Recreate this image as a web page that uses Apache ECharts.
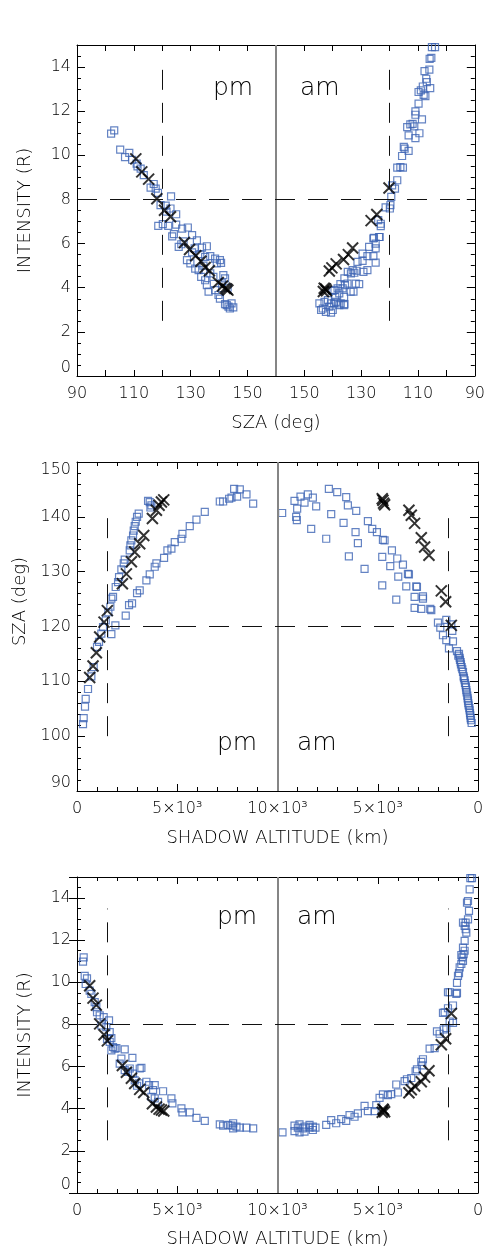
<!DOCTYPE html>
<html><head><meta charset="utf-8">
<script src="https://cdn.jsdelivr.net/npm/echarts@6.0.0/dist/echarts.min.js"></script>
<style>html,body{margin:0;padding:0;background:#fff}#c{width:488px;height:1249px}</style>
</head><body><div id="c"></div><script>
// ---------------- DATA ----------------
// Panel 1: [SZA (deg), intensity (R)]
const p1PmSquares = [[102.0,10.98],[103.1,11.13],[105.2,10.26],[106.9,9.92],[108.4,10.11],[109.4,9.80],[111.0,9.62],[111.3,9.50],[112.4,9.40],[113.5,9.10],[115.9,8.54],[117.0,8.70],[117.7,8.49],[118.5,8.30],[123.1,8.14],[119.4,7.74],[121.2,7.72],[121.5,7.45],[122.9,7.59],[124.9,7.33],[118.6,6.80],[120.2,6.88],[122.1,6.80],[124.9,6.86],[127.0,6.68],[129.0,6.73],[124.1,6.43],[123.5,6.33],[126.7,5.97],[125.8,5.85],[127.5,6.10],[130.5,6.38],[132.2,6.15],[131.4,5.78],[134.0,5.82],[135.7,5.88],[128.7,5.25],[129.9,5.10],[130.5,5.60],[133.4,5.52],[135.1,5.40],[136.9,5.43],[138.6,5.32],[140.3,5.25],[139.2,5.10],[140.7,5.13],[131.6,4.87],[132.8,4.80],[134.5,5.00],[133.7,4.49],[135.1,4.34],[136.9,4.65],[138.0,4.49],[135.7,4.12],[136.3,3.82],[138.6,3.89],[139.8,3.67],[141.0,4.20],[141.5,4.57],[142.1,4.42],[143.0,4.00],[140.3,3.51],[142.1,3.26],[143.3,3.14],[144.4,3.29],[145.0,3.11],[143.8,3.06],[142.7,3.21]];
const p1AmSquares = [[105.1,14.9],[104.0,14.9],[105.9,14.37],[105.3,14.42],[107.7,13.82],[106.0,13.88],[107.1,13.47],[106.9,13.32],[108.3,13.12],[105.7,13.05],[109.8,12.87],[109.0,12.94],[108.0,12.74],[107.4,12.68],[109.8,12.34],[110.9,11.99],[110.9,11.84],[108.6,11.63],[113.8,11.28],[112.7,11.40],[111.9,11.43],[111.3,11.31],[113.3,10.90],[110.9,10.78],[109.5,11.00],[115.0,10.38],[114.7,10.30],[113.3,10.20],[115.6,9.97],[117.3,9.44],[116.2,9.47],[115.3,9.44],[117.3,8.87],[119.1,8.64],[118.1,8.49],[119.4,8.12],[121.4,7.64],[119.7,7.74],[119.9,7.59],[123.1,6.90],[123.1,6.79],[124.0,7.06],[123.5,6.30],[125.5,6.26],[124.9,6.00],[127.2,5.85],[124.9,5.78],[127.8,5.43],[125.7,5.43],[129.5,5.55],[131.3,5.17],[127.8,4.80],[129.2,4.72],[124.9,5.14],[133.6,4.65],[132.4,4.68],[130.7,4.16],[135.9,4.42],[134.8,4.19],[137.3,4.16],[135.7,4.12],[132.7,3.82],[139.4,3.89],[137.7,3.74],[135.9,3.26],[138.8,3.36],[140.6,3.29],[137.7,3.21],[144.7,3.29],[143.5,3.06],[142.4,2.91],[141.2,3.14],[144.1,2.99],[140.6,2.87],[142.9,3.36],[141.7,3.44],[140.0,2.99],[139.5,3.29],[137.2,3.29],[136.0,3.21],[136.5,3.97],[138.3,3.97],[140.1,3.86],[139.1,3.59],[136.0,3.59],[133.7,3.82],[131.9,4.19],[129.5,5.22],[134.7,4.72],[133.0,4.80],[131.6,4.77],[123.7,6.30],[125.7,6.23]];
// Panel 2: [shadow altitude (km), SZA (deg)]
const p2PmSquares = [[300,102.2],[333,103.3],[399,105.4],[433,106.8],[549,108.6],[716,110.9],[832,112.6],[998,116.3],[1098,117.2],[1215,118.7],[1298,119.9],[1431,121.1],[1564,122.6],[1664,123.6],[1714,125.1],[1797,125.4],[1930,127.2],[2047,128.1],[2097,129.0],[2213,130.4],[2330,131.5],[2380,132.2],[2629,133.9],[2662,134.8],[2712,135.7],[2796,136.6],[2829,137.5],[2879,138.3],[2929,139.1],[2995,140.0],[3078,140.6],[3544,142.9],[3628,142.7],[3711,142.1],[3661,141.7],[1714,118.6],[1914,120.2],[2430,122.0],[2596,123.9],[2745,124.2],[2995,126.1],[3128,126.6],[3461,128.4],[3628,129.5],[3877,130.9],[3960,131.5],[4343,132.5],[4509,133.9],[4709,134.2],[4876,135.4],[5208,136.0],[5258,136.9],[5624,138.3],[5957,139.5],[6373,140.9],[7122,142.8],[7288,142.8],[7588,143.3],[7705,143.5],[7837,145.1],[7987,143.7],[8120,145.0],[8453,144.1],[8786,142.4]];
const p2AmSquares = [[9768,140.7],[9152,142.9],[8853,143.7],[9019,141.5],[9069,140.0],[9036,139.4],[8653,142.6],[8487,144.1],[8237,143.5],[8071,141.9],[8320,137.8],[7571,136.0],[7438,145.1],[7022,144.5],[7322,140.5],[6573,143.6],[6490,142.1],[6706,138.9],[6074,141.1],[6107,137.2],[6440,132.8],[5990,135.2],[5658,130.5],[5491,139.2],[5275,137.8],[5042,137.2],[4742,135.8],[4659,135.7],[4776,132.7],[4776,127.5],[4293,133.9],[4376,131.0],[4027,132.4],[3744,131.3],[3977,129.1],[3495,129.6],[3445,129.5],[3578,127.3],[3079,127.3],[3045,127.2],[4077,124.9],[3162,125.4],[2745,125.5],[2745,125.1],[3162,123.4],[2829,123.2],[2330,123.0],[2380,123.2],[1997,120.7],[1880,119.8],[1747,118.4],[1581,117.5],[1448,116.0],[1581,121.2],[1331,120.4],[1281,119.2],[1248,117.3],[1048,115.5],[982,114.7],[948,115.0],[915,114.3],[899,113.9],[865,113.5],[849,113.1],[815,112.6],[782,112.2],[749,111.7],[716,110.9],[699,110.6],[666,110.2],[649,109.7],[616,109.3],[599,108.9],[582,108.4],[566,108.0],[532,107.4],[516,106.9],[499,106.5],[483,106.0],[466,105.6],[433,105.1],[416,104.7],[399,104.2],[383,103.8],[366,103.3],[349,102.9],[316,102.4]];
// Panel 3: [shadow altitude (km), intensity (R)]
const p3PmSquares = [[300,10.98],[333,11.18],[383,10.31],[499,10.19],[433,9.92],[632,9.61],[716,9.45],[882,9.06],[965,8.82],[998,8.58],[1131,8.43],[1331,8.35],[1597,8.19],[1215,7.95],[1464,7.87],[1631,7.64],[1498,7.32],[1631,7.17],[1714,7.35],[1797,6.93],[1880,6.85],[1964,6.88],[1714,6.77],[2213,6.38],[2380,6.82],[2130,6.14],[2380,5.83],[2762,6.41],[2629,5.91],[2546,5.75],[2796,5.67],[3128,5.91],[3212,5.94],[2879,5.35],[3095,5.20],[2995,5.09],[3461,5.28],[3594,5.12],[3877,5.12],[3794,4.88],[3711,4.57],[4293,4.83],[3877,4.49],[4043,4.33],[4709,4.49],[4759,4.25],[5208,4.02],[5258,3.83],[5624,3.83],[5957,3.57],[6373,3.42],[7122,3.26],[7288,3.20],[7538,3.23],[7705,3.20],[7788,3.07],[7954,3.15],[8120,3.10],[8453,3.10],[8786,3.07],[7788,3.31]];
const p3AmSquares = [[9751,2.88],[9152,2.94],[8986,3.10],[8903,2.88],[8736,3.07],[8653,2.91],[8403,3.10],[8237,2.99],[8104,3.10],[9152,3.20],[8903,3.26],[8653,3.15],[8403,3.23],[8237,3.15],[7571,3.23],[7322,3.46],[7072,3.31],[6822,3.51],[6573,3.42],[6407,3.70],[6157,3.62],[5990,3.78],[5658,4.14],[5491,3.89],[5158,3.89],[5075,4.17],[4909,4.52],[4742,4.68],[4493,4.65],[4326,4.69],[4077,5.15],[3994,4.77],[3661,5.31],[3544,5.40],[3328,5.46],[3112,5.78],[3045,5.87],[2829,6.22],[2746,6.35],[2779,6.06],[2413,6.85],[2163,6.88],[2047,7.67],[1914,7.56],[1714,7.76],[1581,7.83],[1747,8.55],[1664,8.58],[1498,8.77],[1248,8.90],[1414,8.14],[1248,8.08],[1498,9.53],[1414,9.53],[1081,9.45],[1048,9.97],[1048,9.50],[998,10.31],[948,10.44],[915,10.71],[832,10.87],[749,11.02],[832,11.29],[716,11.34],[782,11.18],[666,11.50],[749,11.65],[666,11.97],[582,12.36],[616,12.52],[666,12.68],[749,12.83],[616,12.83],[499,12.99],[449,13.39],[549,13.78],[499,13.86],[416,14.41],[383,14.95],[300,14.95]];
// Crosses (same events in every panel)
const pmCrossAlt = [632,799,965,1131,1348,1514,2263,2463,2712,2879,3128,3328,3761,3960,4093,4210,4326];
const pmCrossSza = [110.7,112.8,115.2,118.1,120.8,122.9,127.8,129.6,131.8,133.6,135.1,136.6,139.7,141.2,142.1,142.7,143.1];
const pmCrossInt = [9.84,9.25,8.92,8.03,7.51,7.22,6.05,5.73,5.45,5.20,4.92,4.77,4.24,4.08,3.98,3.94,3.89];
const amCrossAlt = [4659,4709,4742,4776,3445,3328,3162,2829,2662,2446,1830,1614,1331];
const amCrossSza = [142.2,142.5,143.0,143.3,141.2,140.3,138.8,136.2,134.5,133.0,126.5,124.5,120.2];
const amCrossInt = [3.86,3.94,3.98,3.83,4.76,4.90,5.08,5.28,5.50,5.80,7.04,7.32,8.52];
// Tick labels / reference values
const szaTickLabels = [90,110,130,150];
const altTickLabels = ['0','5×10³','10×10³'];
const refSza = 120, refInt = 8, refAlt = 1500;

// ---------------- HELPERS ----------------
const SZA_MID = 160, ALT_MID = 10000;
const amSza = v => 2*SZA_MID - v;
const amAlt = v => 2*ALT_MID - v;
const FONT = 'DejaVu Sans';
const FW = 200;
const TXT = '#000';
const BLUE = '#3d64b4';
const DASH = [20, 13];

function sq(data){ return {type:'scatter', symbol:'rect', symbolSize:7, data,
  itemStyle:{color:'rgba(0,0,0,0)', borderColor:BLUE, borderWidth:1.2}, z:3}; }
function cross(data){ return {type:'scatter', symbol:'path://M0 0L10 10M10 0L0 10', symbolSize:11, data,
  itemStyle:{color:'rgba(0,0,0,0)', borderColor:'#000', borderWidth:2}, z:4}; }
function refLines(items){
  return {silent:true, symbol:['none','none'], label:{show:false}, animation:false, data:items};
}
const dashed = {color:'#111', width:1, type:DASH};
const midStyle = {color:'#858585', width:2, type:'solid'};

function xAxisPair(grid, min, max, interval, fmt, minor){
  const base = {gridIndex:grid, type:'value', min, max, interval, splitLine:{show:false},
    axisLine:{onZero:false, lineStyle:{color:'#000', width:1}}};
  const tick = {inside:true, length: minor ? 7 : 6, lineStyle:{color:'#000'}};
  const mt = minor ? {show:true, splitNumber:minor, length:4, lineStyle:{color:'#000'}} : {show:false};
  return [
    Object.assign({}, base, {position:'bottom', axisTick:tick, minorTick:mt,
      axisLabel:{formatter:fmt, interval:0, margin:10, fontSize:16, fontFamily:FONT, fontWeight:FW, color:TXT, showMinLabel:true, showMaxLabel:true, hideOverlap:false}}),
    Object.assign({}, base, {position:'top', axisTick:tick, minorTick:mt, axisLabel:{show:false}})
  ];
}
function xName(ax, name, gap){
  Object.assign(ax, {name, nameLocation:'middle', nameGap:gap,
    nameTextStyle:{fontSize:18, fontFamily:FONT, fontWeight:FW, color:TXT}});
  return ax;
}

// ---------------- OPTION ----------------
const grids = [
  {left:77, top:45, width:401, height:331},
  {left:77, top:462, width:401, height:329},
  {left:77, top:877, width:401, height:318}
];

const fmtSza = v => { const d = v <= SZA_MID ? v : amSza(v); return (v !== SZA_MID && szaTickLabels.includes(d)) ? String(d) : ''; };
const fmtAlt = v => { const d = v <= ALT_MID ? v : amAlt(v); const i = d/5000; return (v === ALT_MID || d !== ALT_MID) && Number.isInteger(i) ? altTickLabels[i] : ''; };

const x1 = xAxisPair(0, 90, 230, 10, fmtSza, 0); xName(x1[0], 'SZA (deg)', 38);
const x2 = xAxisPair(1, 0, 20000, 5000, fmtAlt, 5); xName(x2[0], 'SHADOW ALTITUDE (km)', 38);
const x3 = xAxisPair(2, 0, 20000, 5000, fmtAlt, 5); xName(x3[0], 'SHADOW ALTITUDE (km)', 37);

function yIntensity(grid, name){
  const base = {gridIndex:grid, type:'value', min:0, max:15, splitLine:{show:false}};
  const lab = {margin:6, fontSize:16, fontFamily:FONT, fontWeight:FW, color:TXT, verticalAlignMinLabel:'bottom',
    formatter: v => (Math.abs(v % 2) < 1e-9 && v <= 14) ? String(v) : ''};
  return [
    Object.assign({}, base, {position:'left', interval:0.5, axisLine:{onZero:false, lineStyle:{color:'#000'}},
      axisTick:{inside:true, length:4, lineStyle:{color:'#000'}}, axisLabel:lab,
      name, nameLocation:'middle', nameRotate:90, nameGap:43, nameTextStyle:{fontSize:18, fontFamily:FONT, fontWeight:FW, color:TXT}}),
    Object.assign({}, base, {position:'left', interval:2, axisLine:{show:false},
      axisTick:{inside:true, length:8, lineStyle:{color:'#000'}}, axisLabel:{show:false}}),
    Object.assign({}, base, {position:'right', interval:0.5, axisLine:{onZero:false, lineStyle:{color:'#000'}},
      axisTick:{inside:true, length:4, lineStyle:{color:'#000'}}, axisLabel:{show:false}}),
    Object.assign({}, base, {position:'right', interval:2, axisLine:{show:false},
      axisTick:{inside:true, length:8, lineStyle:{color:'#000'}}, axisLabel:{show:false}})
  ];
}
const y1 = yIntensity(0, 'INTENSITY (R)');
const y3 = yIntensity(2, 'INTENSITY (R)');
const y2base = {gridIndex:1, type:'value', min:90, max:150, interval:10, splitLine:{show:false},
  axisLine:{onZero:false, lineStyle:{color:'#000'}},
  axisTick:{inside:true, length:8, lineStyle:{color:'#000'}},
  minorTick:{show:true, splitNumber:5, length:4, lineStyle:{color:'#000'}}};
const y2 = [
  Object.assign({}, y2base, {position:'left',
    axisLabel:{margin:6, fontSize:16, fontFamily:FONT, fontWeight:FW, color:TXT, verticalAlignMinLabel:'bottom', verticalAlignMaxLabel:'top'},
    name:'SZA (deg)', nameLocation:'middle', nameRotate:90, nameGap:43,
    nameTextStyle:{fontSize:18, fontFamily:FONT, fontWeight:FW, color:TXT, padding:[0,0,0,50]}}),
  Object.assign({}, y2base, {position:'right', axisLabel:{show:false}})
];

const xAxes = [...x1, ...x2, ...x3];
const yAxes = [...y1, ...y2, ...y3];

const series = [];
// Panel 1
series.push(Object.assign(sq(p1PmSquares), {xAxisIndex:0, yAxisIndex:0,
  markLine: refLines([
    {xAxis:SZA_MID, lineStyle:midStyle},
    {yAxis:refInt, lineStyle:dashed},
    [{coord:[refSza, 2.5], lineStyle:dashed},{coord:[refSza, 14]}],
    [{coord:[amSza(refSza), 2.5], lineStyle:dashed},{coord:[amSza(refSza), 14]}]
  ])}));
series.push(Object.assign(sq(p1AmSquares.map(p => [amSza(p[0]), p[1]])), {xAxisIndex:0, yAxisIndex:0}));
series.push(Object.assign(cross(pmCrossSza.map((s,i) => [s, pmCrossInt[i]])), {xAxisIndex:0, yAxisIndex:0}));
series.push(Object.assign(cross(amCrossSza.map((s,i) => [amSza(s), amCrossInt[i]])), {xAxisIndex:0, yAxisIndex:0}));
// Panel 2
series.push(Object.assign(sq(p2PmSquares), {xAxisIndex:2, yAxisIndex:4,
  markLine: refLines([
    {xAxis:ALT_MID, lineStyle:midStyle},
    {yAxis:refSza, lineStyle:dashed},
    [{coord:[refAlt, 100], lineStyle:dashed},{coord:[refAlt, 140]}],
    [{coord:[amAlt(refAlt), 100], lineStyle:dashed},{coord:[amAlt(refAlt), 140]}]
  ])}));
series.push(Object.assign(sq(p2AmSquares.map(p => [amAlt(p[0]), p[1]])), {xAxisIndex:2, yAxisIndex:4}));
series.push(Object.assign(cross(pmCrossAlt.map((a,i) => [a, pmCrossSza[i]])), {xAxisIndex:2, yAxisIndex:4}));
series.push(Object.assign(cross(amCrossAlt.map((a,i) => [amAlt(a), amCrossSza[i]])), {xAxisIndex:2, yAxisIndex:4}));
// Panel 3
series.push(Object.assign(sq(p3PmSquares), {xAxisIndex:4, yAxisIndex:6,
  markLine: refLines([
    {xAxis:ALT_MID, lineStyle:midStyle},
    {yAxis:refInt, lineStyle:dashed},
    [{coord:[refAlt, 2.5], lineStyle:dashed},{coord:[refAlt, 13.5]}],
    [{coord:[amAlt(refAlt), 2.5], lineStyle:dashed},{coord:[amAlt(refAlt), 13.5]}]
  ])}));
series.push(Object.assign(sq(p3AmSquares.map(p => [amAlt(p[0]), p[1]])), {xAxisIndex:4, yAxisIndex:6}));
series.push(Object.assign(cross(pmCrossAlt.map((a,i) => [a, pmCrossInt[i]])), {xAxisIndex:4, yAxisIndex:6}));
series.push(Object.assign(cross(amCrossAlt.map((a,i) => [amAlt(a), amCrossInt[i]])), {xAxisIndex:4, yAxisIndex:6}));

const txt = (text, x, y) => ({type:'text', left:x, top:y, style:{text, fontSize:25, fontFamily:FONT, fontWeight:FW, fill:TXT, verticalAlign:'top'}});

const chart = echarts.init(document.getElementById('c'), null, {renderer:'canvas'});
chart.setOption({
  animation:false, backgroundColor:'#fff',
  grid: grids, xAxis: xAxes, yAxis: yAxes, series,
  graphic: [txt('pm',213,76), txt('am',300,76), txt('pm',217,731), txt('am',297,731), txt('pm',217,905), txt('am',297,905)]
});
</script></body></html>
